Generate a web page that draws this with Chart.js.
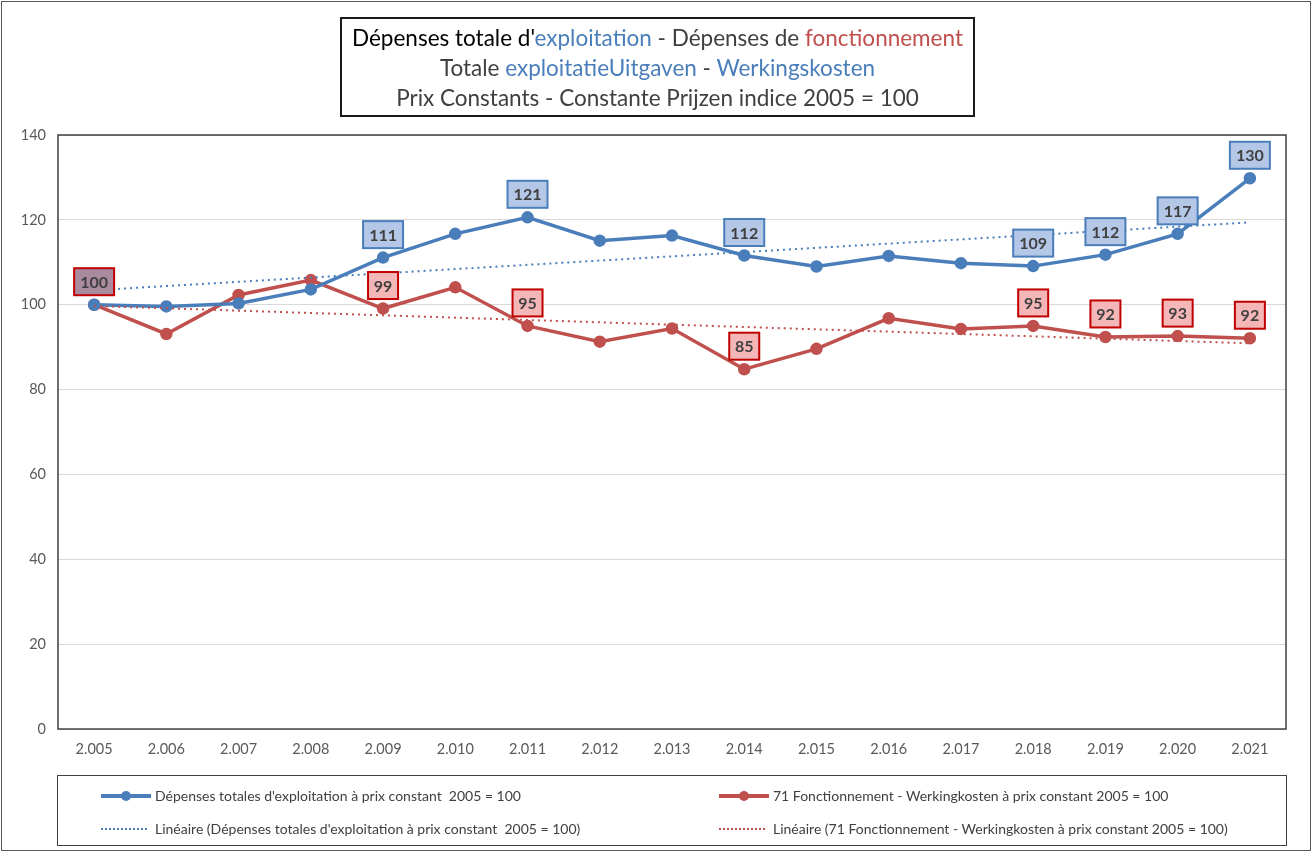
<!DOCTYPE html>
<html>
<head>
<meta charset="utf-8">
<script src="https://cdn.jsdelivr.net/npm/chart.js@4"></script>
<style>
  body { margin: 0; background: #fff; font-family: Lato, "Liberation Sans", sans-serif; }
  #frame { position: absolute; left: 1px; top: 1px; width: 1308px; height: 848px; border: 1px solid #595959; }
  #myLineChart { position: absolute; left: 0; top: 0; }
  #title { position: absolute; left: 340px; top: 17px; width: 635px; height: 100px; border: 2px solid #1a1a1a;
           text-align: center; font-size: 22.5px; line-height: 30px; color: #404040; padding-top: 4px; box-sizing: border-box; }
  .b { color: #4a7ebb; } .r { color: #c0504d; } .k { color: #000; }
  #legend { position: absolute; left: 57px; top: 775px; width: 1228px; height: 69px; border: 1.5px solid #404040; }
  .item { position: absolute; font-size: 14px; color: #404040; display: flex; align-items: center; white-space: pre; }
  .swatch { position: relative; width: 50px; height: 10px; margin-right: 4px; }
</style>
</head>
<body>
<div id="frame"></div>
<canvas id="myLineChart" width="1312" height="852"></canvas>
<div id="title">
  <span class="k">Dépenses totale d'</span><span class="b">exploitation</span> - Dépenses de <span class="r">fonctionnement</span><br>
  Totale <span class="b">exploitatieUitgaven</span> - <span class="b">Werkingskosten</span><br>
  Prix Constants - Constante Prijzen indice 2005 = 100
</div>
<div id="legend"></div>
<script>
const years = ['2.005', '2.006', '2.007', '2.008', '2.009', '2.010', '2.011', '2.012', '2.013',
               '2.014', '2.015', '2.016', '2.017', '2.018', '2.019', '2.020', '2.021'];
const exploitation = [100, 99.6, 100.3, 103.6, 111.1, 116.7, 120.6, 115.1, 116.3,
                      111.6, 109.0, 111.5, 109.8, 109.1, 111.8, 116.7, 129.8];
const fonctionnement = [100, 93.1, 102.3, 105.8, 99.1, 104.1, 95.0, 91.3, 94.4,
                        84.8, 89.6, 96.8, 94.3, 95.0, 92.4, 92.6, 92.1];
// trend lines (start and end only)
const exploitationTrend = [103.4, null, null, null, null, null, null, null, null,
                           null, null, null, null, null, null, null, 119.4];
const fonctionnementTrend = [99.7, null, null, null, null, null, null, null, null,
                             null, null, null, null, null, null, null, 90.9];
const yTicks = [0, 20, 40, 60, 80, 100, 120, 140];
// which points carry a value label
const exploitationLabels = [4, 6, 9, 13, 14, 15, 16];
const fonctionnementLabels = [0, 4, 6, 9, 13, 14, 15, 16];

const blue = '#4a7ebb';
const red = '#c0504d';

const valueLabels = {
    id: 'valueLabels',
    afterDatasetsDraw(chart) {
        const ctx = chart.ctx;
        const sets = [
            { ds: 0, idx: exploitationLabels, fill: '#b4c7e7', stroke: '#4a7ebb' },
            { ds: 2, idx: fonctionnementLabels, fill: '#f4b6b6', stroke: '#c00000' }
        ];
        ctx.save();
        ctx.font = 'bold 16px Lato, "Liberation Sans", sans-serif';
        ctx.textAlign = 'center';
        ctx.textBaseline = 'middle';
        sets.forEach(s => {
            const meta = chart.getDatasetMeta(s.ds);
            const values = chart.data.datasets[s.ds].data;
            s.idx.forEach(i => {
                const pt = meta.data[i];
                const txt = String(Math.round(values[i]));
                const w = txt.length > 2 ? 40 : 30;
                const h = 27;
                const cx = pt.x, cy = pt.y - 23;
                ctx.fillStyle = (s.ds === 2 && i === 0) ? '#a98a9e' : s.fill;
                ctx.fillRect(cx - w / 2, cy - h / 2, w, h);
                ctx.lineWidth = 2;
                ctx.strokeStyle = s.stroke;
                ctx.strokeRect(cx - w / 2, cy - h / 2, w, h);
                ctx.fillStyle = '#404040';
                ctx.fillText(txt, cx, cy + 1);
            });
        });
        ctx.restore();
    }
};

const plotBox = {
    id: 'plotBox',
    beforeDatasetsDraw(chart) {
        const a = chart.chartArea;
        const ctx = chart.ctx;
        ctx.save();
        ctx.strokeStyle = '#404040';
        ctx.lineWidth = 1.5;
        ctx.strokeRect(a.left, a.top, a.right - a.left, a.bottom - a.top);
        ctx.restore();
    }
};

const ctx = document.getElementById('myLineChart').getContext('2d');
const myLineChart = new Chart(ctx, {
    type: 'line',
    data: {
        labels: years,
        datasets: [{
            label: "Dépenses totales d'exploitation à prix constant  2005 = 100",
            data: exploitation,
            borderColor: blue,
            backgroundColor: blue,
            borderWidth: 3.5,
            pointRadius: 4.5,
            pointHoverRadius: 4.5,
            tension: 0,
            order: 1
        }, {
            label: "Linéaire (Dépenses totales d'exploitation à prix constant  2005 = 100)",
            data: exploitationTrend,
            borderColor: blue,
            borderWidth: 2,
            borderDash: [2, 4],
            pointRadius: 0,
            spanGaps: true,
            order: 0
        }, {
            label: '71 Fonctionnement - Werkingkosten à prix constant 2005 = 100',
            data: fonctionnement,
            borderColor: red,
            backgroundColor: red,
            borderWidth: 3.5,
            pointRadius: 4.5,
            pointHoverRadius: 4.5,
            tension: 0,
            order: 1
        }, {
            label: 'Linéaire (71 Fonctionnement - Werkingkosten à prix constant 2005 = 100)',
            data: fonctionnementTrend,
            borderColor: red,
            borderWidth: 2,
            borderDash: [2, 4],
            pointRadius: 0,
            spanGaps: true,
            order: 0
        }]
    },
    options: {
        responsive: false,
        animation: false,
        devicePixelRatio: 1,
        layout: { padding: { left: 10, top: 135, right: 26, bottom: 83 } },
        scales: {
            y: {
                min: 0,
                max: 140,
                afterFit: s => { s.width = 48; },
                afterBuildTicks: s => { s.ticks = yTicks.map(v => ({ value: v })); },
                grid: { color: '#d9d9d9', drawTicks: false },
                border: { display: false },
                ticks: {
                    padding: 12,
                    color: '#595959',
                    font: { size: 14.5, family: 'Lato, "Liberation Sans", sans-serif' }
                }
            },
            x: {
                offset: true,
                afterFit: s => { s.height = 40; },
                grid: { display: false, drawTicks: false },
                border: { display: false },
                ticks: {
                    padding: 12,
                    maxRotation: 0,
                    color: '#595959',
                    font: { size: 14.5, family: 'Lato, "Liberation Sans", sans-serif' }
                }
            }
        },
        plugins: {
            legend: { display: false },
            title: { display: false },
            tooltip: { enabled: false }
        }
    },
    plugins: [plotBox, valueLabels]
});

// html legend, built from the chart's datasets
const legendBox = document.getElementById('legend');
const spots = [[43, 20], [43, 53], [661, 20], [661, 53]];
myLineChart.data.datasets.forEach((ds, i) => {
    const item = document.createElement('div');
    item.className = 'item';
    item.style.left = spots[i][0] + 'px';
    item.style.top = (spots[i][1] - 9) + 'px';
    const sw = document.createElement('div');
    sw.className = 'swatch';
    if (ds.borderDash) {
        sw.innerHTML = '<div style="position:absolute;left:0;right:4px;top:4px;border-top:2px dotted ' + ds.borderColor + '"></div>';
    } else {
        sw.innerHTML = '<div style="position:absolute;left:0;right:0;top:3px;height:4px;background:' + ds.borderColor + '"></div>' +
            '<div style="position:absolute;left:20px;top:0;width:10px;height:10px;border-radius:5px;background:' + ds.borderColor + '"></div>';
    }
    item.appendChild(sw);
    item.appendChild(document.createTextNode(ds.label));
    legendBox.appendChild(item);
});
</script>
</body>
</html>
